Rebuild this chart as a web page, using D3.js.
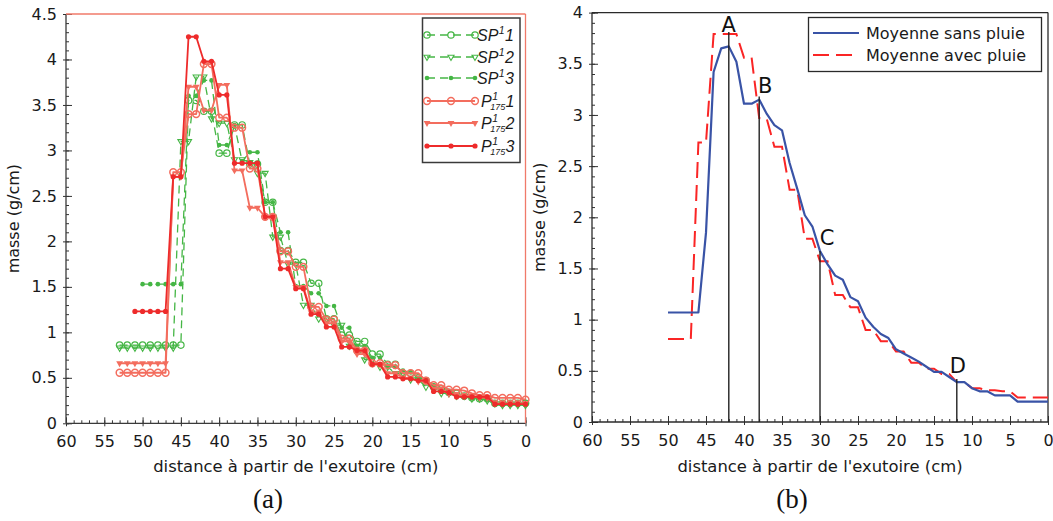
<!DOCTYPE html>
<html><head><meta charset="utf-8">
<script src="https://cdn.jsdelivr.net/npm/d3@7"></script>
<style>
body{margin:0;background:#fff}
svg{display:block}
</style>
</head><body>
<svg id="c" width="1053" height="521" font-family="DejaVu Sans" fill="#1a1a1a"></svg>
<script>
// ---------- DATA ----------
// Panel (a): distance (cm) and mass (g/cm) for six runs
const xLeft = [53,52,51,50,49,48,47,46,45,44,43,42,41,40,39,38,37,36,35,34,33,32,31,30,29,28,27,26,25,24,23,22,21,20,19,18,17,16,15,14,13,12,11,10,9,8,7,6,5,4,3,2,1,0];
const sp1 = [0.86,0.86,0.86,0.86,0.86,0.86,0.86,0.86,0.86,3.55,3.55,3.43,3.43,2.97,2.97,3.28,3.28,2.85,2.85,2.43,2.43,1.90,1.90,1.77,1.77,1.54,1.54,1.15,1.15,0.97,0.97,0.90,0.90,0.76,0.76,0.65,0.65,0.55,0.55,0.50,0.47,0.40,0.38,0.34,0.33,0.30,0.28,0.27,0.27,0.22,0.22,0.22,0.22,0.22];
const sp2 = [0.83,0.83,0.83,0.83,0.83,0.83,0.83,0.83,3.10,3.10,3.81,3.81,3.35,3.30,3.30,2.90,2.90,2.87,2.75,2.75,2.05,2.05,1.75,1.75,1.30,1.30,1.15,1.15,1.08,1.08,0.85,0.85,0.70,0.70,0.62,0.62,0.55,0.55,0.48,0.48,0.40,0.40,0.33,0.33,0.30,0.30,0.27,0.27,0.25,0.22,0.20,0.20,0.20,0.20];
const sp3 = [null,null,null,1.53,1.53,1.53,1.53,1.53,1.53,3.60,3.60,3.77,3.77,3.06,3.06,3.28,2.88,2.98,2.98,2.43,2.43,2.10,2.10,1.51,1.51,1.43,1.43,1.29,1.29,1.05,1.05,0.85,0.85,0.72,0.72,0.62,0.62,0.58,0.56,0.50,0.48,0.40,0.37,0.33,0.30,0.28,0.28,0.27,0.26,0.20,0.20,0.20,0.20,0.20];
const p1 = [0.556,0.556,0.556,0.556,0.556,0.556,0.556,2.76,2.76,3.40,3.40,3.95,3.95,3.36,3.36,3.25,3.25,2.80,2.80,2.27,2.27,1.89,1.89,1.72,1.72,1.28,1.28,1.14,1.14,0.93,0.93,0.80,0.80,0.66,0.66,0.64,0.64,0.55,0.55,0.55,0.47,0.42,0.42,0.37,0.37,0.36,0.33,0.31,0.31,0.28,0.28,0.28,0.28,0.26];
const p2 = [0.66,0.66,0.66,0.66,0.66,0.66,0.66,2.71,2.71,3.70,3.70,3.44,3.44,3.72,3.72,2.78,2.78,2.37,2.37,2.27,2.27,1.77,1.77,1.50,1.50,1.22,1.22,1.10,1.10,0.90,0.90,0.76,0.76,0.65,0.65,0.55,0.55,0.50,0.50,0.46,0.46,0.38,0.38,0.32,0.32,0.30,0.30,0.28,0.28,0.22,0.22,0.22,0.22,0.22];
const p3 = [null,null,1.23,1.23,1.23,1.23,1.23,2.71,2.71,4.25,4.25,3.98,3.98,3.61,3.61,2.86,2.86,2.86,2.86,2.27,2.27,1.70,1.70,1.48,1.48,1.20,1.20,1.06,1.06,0.84,0.84,0.80,0.80,0.65,0.65,0.51,0.51,0.49,0.49,0.47,0.47,0.35,0.35,0.34,0.29,0.29,0.29,0.29,0.29,0.21,0.21,0.21,0.21,0.21];
const legendBase = ["SP","SP","SP","P","P","P"];
const legendSup  = ["1","1","1","1","1","1"];
const legendSub  = ["","","","175","175","175"];
const legendNum  = ["1","2","3","1","2","3"];

// Panel (b): mean curves
const xRight = [50,49,48,47,46,45,44,43,42,41,40,39,38,37,36,35,34,33,32,31,30,29,28,27,26,25,24,23,22,21,20,19,18,17,16,15,14,13,12,11,10,9,8,7,6,5,4,3,2,1,0];
const meanDry = [1.07,1.07,1.07,1.07,1.07,1.85,3.42,3.65,3.67,3.52,3.11,3.11,3.15,3.01,2.90,2.85,2.53,2.28,2.02,1.91,1.67,1.54,1.43,1.39,1.22,1.18,1.02,0.93,0.86,0.82,0.71,0.67,0.63,0.59,0.54,0.49,0.49,0.44,0.39,0.39,0.33,0.30,0.30,0.26,0.26,0.26,0.20,0.20,0.20,0.20,0.20];
const meanRain = [0.81,0.81,0.81,0.81,2.73,2.73,3.79,3.79,3.79,3.79,3.56,3.56,2.97,2.96,2.69,2.69,2.27,2.27,1.79,1.79,1.57,1.57,1.24,1.24,1.12,1.12,0.90,0.90,0.79,0.79,0.69,0.69,0.58,0.58,0.52,0.52,0.47,0.47,0.39,0.39,0.33,0.33,0.31,0.31,0.30,0.30,0.24,0.24,0.24,0.24,0.24];
const rightLegend = ["Moyenne sans pluie","Moyenne avec pluie"];
const pointLabels = ["A","B","C","D"];
const pointX = [42,38,30,12];
const pointTop = [3.81,3.18,1.67,0.42];

// Axis ticks
const xTickVals = [60,55,50,45,40,35,30,25,20,15,10,5,0];
const xTickLabels = ["60","55","50","45","40","35","30","25","20","15","10","5","0"];
const yTickValsL = [0,0.5,1,1.5,2,2.5,3,3.5,4,4.5];
const yTickLabelsL = ["0","0.5","1","1.5","2","2.5","3","3.5","4","4.5"];
const yTickValsR = [0,0.5,1,1.5,2,2.5,3,3.5,4];
const yTickLabelsR = ["0","0.5","1","1.5","2","2.5","3","3.5","4"];
const xTitle = "distance à partir de l'exutoire (cm)";
const yTitle = "masse (g/cm)";
const captions = ["(a)","(b)"];

// ---------- DRAWING ----------
const svg = d3.select("#c");
const xL = d3.scaleLinear().domain([60,0]).range([66,525.5]);
const yL = d3.scaleLinear().domain([0,4.5]).range([423.3,14]);
const xR = d3.scaleLinear().domain([60,0]).range([592,1048]);
const yR = d3.scaleLinear().domain([0,4]).range([422,12.6]);

function drawAxes(xs, ys, yVals, yLabels, frame){
  const [x0,x1] = xs.range(), [y0,y1] = ys.range();
  const g = svg.append("g");
  const ink = "#333";
  const clean = s => { s.select(".domain").remove(); s.selectAll("line").attr("stroke",ink).attr("stroke-width",1); };
  g.append("g").attr("transform",`translate(0,${y0})`)
    .call(d3.axisBottom(xs).tickValues(d3.range(0,61,1)).tickSize(-3).tickFormat("")).call(clean);
  g.append("g").attr("transform",`translate(0,${y0})`)
    .call(d3.axisBottom(xs).tickValues(xTickVals).tickSize(-6).tickFormat("")).call(clean);
  g.append("g").attr("transform",`translate(0,${y0})`)
    .call(d3.axisBottom(xs).tickValues(xTickVals).tickSize(3).tickPadding(9.6).tickFormat((d,i)=>xTickLabels[i]))
    .call(clean)
    .call(s=>s.selectAll("text").attr("font-size",16).attr("font-family","DejaVu Sans").attr("fill","#1a1a1a"));
  const ymax = ys.domain()[1];
  const yMinor = d3.range(0, Math.round(ymax*10)+1).map(v=>v/10);
  g.append("g").attr("transform",`translate(${x0},0)`)
    .call(d3.axisLeft(ys).tickValues(yMinor).tickSize(-3).tickFormat("")).call(clean);
  g.append("g").attr("transform",`translate(${x0},0)`)
    .call(d3.axisLeft(ys).tickValues(yVals).tickSize(-6).tickFormat("")).call(clean);
  g.append("g").attr("transform",`translate(${x0},0)`)
    .call(d3.axisLeft(ys).tickValues(yVals).tickSize(3).tickPadding(6).tickFormat((d,i)=>yLabels[i]))
    .call(clean)
    .call(s=>s.selectAll("text").attr("font-size",16).attr("font-family","DejaVu Sans").attr("fill","#1a1a1a"));
  g.append("line").attr("x1",x0).attr("x2",x1).attr("y1",y0).attr("y2",y0).attr("stroke",frame[0]).attr("stroke-width",1.3);
  g.append("line").attr("x1",x0).attr("x2",x0).attr("y1",y0).attr("y2",y1).attr("stroke",frame[0]).attr("stroke-width",1.3);
  g.append("line").attr("x1",x0).attr("x2",x1).attr("y1",y1).attr("y2",y1).attr("stroke",frame[1]).attr("stroke-width",1.3);
  g.append("line").attr("x1",x1).attr("x2",x1).attr("y1",y0).attr("y2",y1).attr("stroke",frame[1]).attr("stroke-width",1.3);
  svg.append("text").attr("x",(x0+x1)/2).attr("y",472).attr("text-anchor","middle")
    .attr("font-size",16.4).text(xTitle);
  svg.append("text").attr("transform",`translate(${x0-47},${(y0+y1)/2}) rotate(-90)`)
    .attr("text-anchor","middle").attr("font-size",16).text(yTitle);
}

drawAxes(xL, yL, yTickValsL, yTickLabelsL, ["#3a3a3a","#f07a6a"]);
drawAxes(xR, yR, yTickValsR, yTickLabelsR, ["#2a2a2a","#2a2a2a"]);

// ---- Panel (a) series ----
const green = "#45b645", salmon = "#f36d5e", red = "#ee2b2b";
const seriesL = [sp1,sp2,sp3,p1,p2,p3];
const styleL = [
  {c:green, dash:"8,5", w:1.3, m:"circleOpen"},
  {c:green, dash:"8,5", w:1.3, m:"triOpen"},
  {c:green, dash:"8,5", w:1.3, m:"dot"},
  {c:salmon, dash:null, w:1.8, m:"circleOpenBig"},
  {c:salmon, dash:null, w:1.8, m:"triFilled"},
  {c:red, dash:null, w:1.8, m:"dotBig"}
];
function drawMarker(g, kind, color, x, y){
  if(kind==="circleOpen") g.append("circle").attr("cx",x).attr("cy",y).attr("r",3.2).attr("fill","none").attr("stroke",color).attr("stroke-width",1.2);
  else if(kind==="circleOpenBig") g.append("circle").attr("cx",x).attr("cy",y).attr("r",3.4).attr("fill","none").attr("stroke",color).attr("stroke-width",1.5);
  else if(kind==="dot") g.append("circle").attr("cx",x).attr("cy",y).attr("r",2.3).attr("fill",color);
  else if(kind==="dotBig") g.append("circle").attr("cx",x).attr("cy",y).attr("r",2.6).attr("fill",color);
  else if(kind==="triOpen") g.append("path").attr("d",d3.symbol(d3.symbolTriangle,16)()).attr("transform",`translate(${x},${y}) rotate(180)`).attr("fill","none").attr("stroke",color).attr("stroke-width",1.1);
  else if(kind==="triFilled") g.append("path").attr("d",d3.symbol(d3.symbolTriangle,20)()).attr("transform",`translate(${x},${y}) rotate(180)`).attr("fill",color);
}
const lineL = d3.line().defined(d=>d[1]!=null).x(d=>xL(d[0])).y(d=>yL(d[1]));
seriesL.forEach((s,k)=>{
  const st = styleL[k];
  const pts = xLeft.map((x,i)=>[x,s[i]]);
  const g = svg.append("g");
  g.append("path").attr("d",lineL(pts)).attr("fill","none").attr("stroke",st.c).attr("stroke-width",st.w)
    .attr("stroke-dasharray",st.dash).attr("stroke-linejoin","round");
  pts.filter(d=>d[1]!=null).forEach(d=>drawMarker(g, st.m, st.c, xL(d[0]), yL(d[1])));
});

// legend (a)
const lg = svg.append("g");
lg.append("rect").attr("x",422.5).attr("y",18).attr("width",97.5).attr("height",144.5).attr("fill","#fff").attr("stroke","#3a3a3a").attr("stroke-width",1.5);
const rowY = [35,57,78,101,123,146];
const LF = "Liberation Sans";
seriesL.forEach((s,k)=>{
  const st = styleL[k], y = rowY[k];
  lg.append("line").attr("x1",427).attr("x2",475).attr("y1",y).attr("y2",y).attr("stroke",st.c).attr("stroke-width",st.w).attr("stroke-dasharray",st.dash);
  [427,451,475].forEach(x=>drawMarker(lg, st.m, st.c, x, y));
  const tx = legendSub[k] ? 481 : 477;
  const base = lg.append("text").attr("x",tx).attr("y",y+5.5).attr("font-family",LF).attr("font-style","italic").attr("font-size",16).attr("fill","#1a1a1a").text(legendBase[k]);
  let cx = tx + base.node().getComputedTextLength();
  const sup = lg.append("text").attr("x",cx+0.5).attr("y",y-1.5).attr("font-family",LF).attr("font-style","italic").attr("font-size",10.5).attr("fill","#1a1a1a").text(legendSup[k]);
  let wEnd = cx + 0.5 + sup.node().getComputedTextLength();
  if(legendSub[k]){
    const sub = lg.append("text").attr("x",cx-1.5).attr("y",y+9).attr("font-family",LF).attr("font-style","italic").attr("font-size",9).attr("fill","#1a1a1a").text(legendSub[k]);
    wEnd = Math.max(wEnd, cx-1.5+sub.node().getComputedTextLength());
  }
  lg.append("text").attr("x",wEnd+0.3).attr("y",y+5.5).attr("font-family",LF).attr("font-style","italic").attr("font-size",16).attr("fill","#1a1a1a").text(legendNum[k]);
});

// ---- Panel (b) ----
const lineR = d3.line().x(d=>xR(d[0])).y(d=>yR(d[1]));
const blue = "#3953a6", rdash = "#fa2525";
svg.append("path").attr("d",lineR(xRight.map((x,i)=>[x,meanRain[i]]))).attr("fill","none")
  .attr("stroke",rdash).attr("stroke-width",2).attr("stroke-dasharray","16,7");
svg.append("path").attr("d",lineR(xRight.map((x,i)=>[x,meanDry[i]]))).attr("fill","none")
  .attr("stroke",blue).attr("stroke-width",2.2).attr("stroke-linejoin","round");
const labelNudge = [[0,0],[6,-3.5],[7,-6],[1,-6]];
pointX.forEach((x,i)=>{
  svg.append("line").attr("x1",xR(x)).attr("x2",xR(x)).attr("y1",yR(0)).attr("y2",yR(pointTop[i]))
    .attr("stroke","#222").attr("stroke-width",1.4);
  svg.append("text").attr("x",xR(x)+labelNudge[i][0]).attr("y",yR(pointTop[i])+labelNudge[i][1])
    .attr("text-anchor","middle").attr("font-size",21).attr("fill","#111").text(pointLabels[i]);
});
// legend (b)
const rg = svg.append("g");
rg.append("rect").attr("x",808.5).attr("y",17.5).attr("width",233).attr("height",54).attr("fill","#fff").attr("stroke","#2a2a2a").attr("stroke-width",1.3);
rg.append("line").attr("x1",813).attr("x2",859).attr("y1",33).attr("y2",33).attr("stroke",blue).attr("stroke-width",2.2);
rg.append("line").attr("x1",813).attr("x2",859).attr("y1",55).attr("y2",55).attr("stroke",rdash).attr("stroke-width",2).attr("stroke-dasharray","16,7");
rightLegend.forEach((t,i)=>rg.append("text").attr("x",866).attr("y",[39,61][i]).attr("font-size",16).attr("fill","#1a1a1a").text(t));

// captions
[[268,captions[0]],[792,captions[1]]].forEach(([x,t])=>
  svg.append("text").attr("x",x).attr("y",508).attr("text-anchor","middle")
    .attr("font-family","Liberation Serif").attr("font-size",27).attr("fill","#111").text(t));
</script>
</body></html>
